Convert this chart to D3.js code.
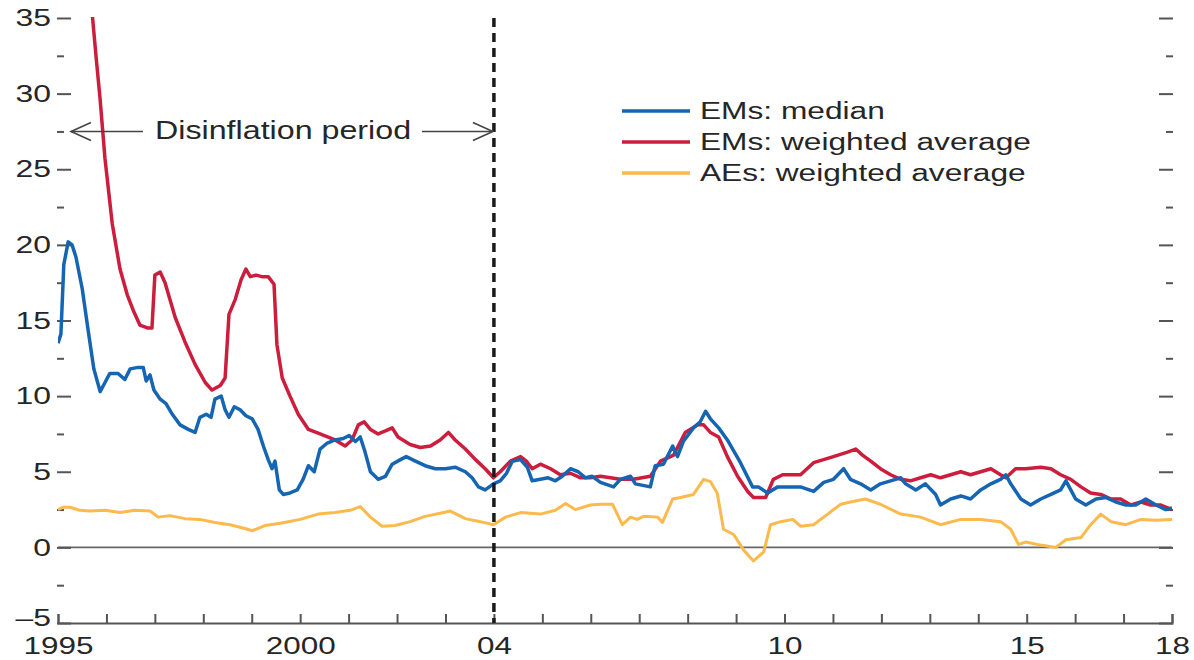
<!DOCTYPE html>
<html>
<head>
<meta charset="utf-8">
<script src="https://cdn.jsdelivr.net/npm/d3@7"></script>
<style>
  html, body { margin: 0; padding: 0; background: #fff; }
  svg { display: block; font-family: "Liberation Sans", Arial, sans-serif; }
</style>
</head>
<body>
<svg id="chart"></svg>
<script>
// [decimal year, percent]
const emMedian = [
  [1995.00, 13.5], [1995.06, 14.1], [1995.12, 18.7], [1995.21, 20.2], [1995.29, 20.0],
  [1995.37, 19.2], [1995.50, 17.1], [1995.62, 14.4], [1995.74, 11.8], [1995.87, 10.3],
  [1995.97, 10.9], [1996.07, 11.5], [1996.24, 11.5], [1996.38, 11.1], [1996.49, 11.8],
  [1996.65, 11.9], [1996.76, 11.9], [1996.82, 11.0], [1996.90, 11.4], [1996.98, 10.4],
  [1997.11, 9.8], [1997.23, 9.5], [1997.36, 8.8], [1997.52, 8.1], [1997.69, 7.8],
  [1997.83, 7.6], [1997.93, 8.6], [1998.06, 8.8], [1998.16, 8.6], [1998.24, 9.8],
  [1998.37, 10.0], [1998.45, 9.1], [1998.53, 8.6], [1998.64, 9.3], [1998.76, 9.1],
  [1998.88, 8.7], [1999.01, 8.5], [1999.13, 7.8], [1999.24, 6.7], [1999.34, 5.8],
  [1999.42, 5.2], [1999.48, 5.7], [1999.57, 3.8], [1999.65, 3.5], [1999.79, 3.6],
  [1999.94, 3.8], [2000.06, 4.5], [2000.17, 5.4], [2000.29, 5.0], [2000.41, 6.5],
  [2000.56, 6.9], [2000.72, 7.1], [2000.89, 7.2], [2001.01, 7.4], [2001.14, 7.0],
  [2001.24, 7.3], [2001.34, 6.3], [2001.45, 5.0], [2001.61, 4.5], [2001.76, 4.7],
  [2001.90, 5.5], [2002.07, 5.8], [2002.19, 6.0], [2002.38, 5.7], [2002.58, 5.4],
  [2002.79, 5.2], [2003.00, 5.2], [2003.20, 5.3], [2003.41, 5.0], [2003.55, 4.6],
  [2003.68, 4.0], [2003.82, 3.8], [2003.99, 4.2], [2004.13, 4.4], [2004.26, 4.9],
  [2004.38, 5.7], [2004.55, 5.8], [2004.69, 5.3], [2004.79, 4.4], [2004.96, 4.5],
  [2005.12, 4.6], [2005.27, 4.4], [2005.41, 4.7], [2005.58, 5.2], [2005.74, 5.0],
  [2005.89, 4.6], [2006.03, 4.7], [2006.20, 4.3], [2006.47, 4.0], [2006.61, 4.5],
  [2006.82, 4.7], [2006.92, 4.2], [2007.23, 4.0], [2007.33, 5.4], [2007.50, 5.5],
  [2007.69, 6.7], [2007.79, 6.0], [2007.91, 7.0], [2008.12, 7.9], [2008.26, 8.3],
  [2008.37, 9.0], [2008.47, 8.5], [2008.64, 7.9], [2008.82, 7.1], [2009.09, 5.6],
  [2009.34, 4.0], [2009.46, 4.0], [2009.65, 3.6], [2009.86, 4.0], [2010.12, 4.0],
  [2010.33, 4.0], [2010.60, 3.7], [2010.81, 4.3], [2011.01, 4.5], [2011.22, 5.2],
  [2011.36, 4.5], [2011.57, 4.2], [2011.78, 3.8], [2011.98, 4.2], [2012.19, 4.4],
  [2012.40, 4.6], [2012.50, 4.2], [2012.71, 3.8], [2012.91, 4.2], [2013.12, 3.5],
  [2013.22, 2.8], [2013.43, 3.2], [2013.64, 3.4], [2013.84, 3.2], [2014.05, 3.8],
  [2014.26, 4.2], [2014.46, 4.5], [2014.57, 4.8], [2014.67, 4.2], [2014.88, 3.2],
  [2015.08, 2.8], [2015.29, 3.2], [2015.50, 3.5], [2015.70, 3.8], [2015.81, 4.4],
  [2015.91, 3.8], [2016.01, 3.2], [2016.22, 2.8], [2016.43, 3.2], [2016.63, 3.3],
  [2016.84, 3.0], [2017.05, 2.8], [2017.25, 2.8], [2017.46, 3.2], [2017.67, 2.8],
  [2017.87, 2.5], [2018.00, 2.6]
];

const emWeighted = [
  [1995.70, 35.5], [1995.79, 32.3], [1995.87, 29.6], [1995.97, 25.7], [1996.12, 21.4],
  [1996.28, 18.4], [1996.43, 16.7], [1996.55, 15.7], [1996.69, 14.7], [1996.86, 14.5],
  [1996.94, 14.5], [1997.00, 18.0], [1997.11, 18.2], [1997.21, 17.5], [1997.42, 15.2],
  [1997.62, 13.6], [1997.83, 12.1], [1998.04, 10.9], [1998.18, 10.4], [1998.35, 10.7],
  [1998.45, 11.2], [1998.53, 15.4], [1998.66, 16.4], [1998.78, 17.7], [1998.88, 18.4],
  [1998.97, 17.9], [1999.09, 18.0], [1999.21, 17.9], [1999.34, 17.9], [1999.46, 17.4],
  [1999.52, 13.4], [1999.63, 11.2], [1999.79, 10.0], [1999.96, 8.8], [2000.17, 7.8],
  [2000.41, 7.5], [2000.72, 7.1], [2000.93, 6.7], [2001.07, 7.1], [2001.20, 8.1],
  [2001.32, 8.3], [2001.45, 7.8], [2001.61, 7.5], [2001.76, 7.7], [2001.90, 7.9],
  [2002.02, 7.3], [2002.27, 6.8], [2002.48, 6.6], [2002.69, 6.7], [2002.89, 7.1],
  [2003.06, 7.6], [2003.20, 7.1], [2003.41, 6.5], [2003.62, 5.8], [2003.82, 5.2],
  [2003.99, 4.6], [2004.13, 5.0], [2004.34, 5.7], [2004.55, 6.0], [2004.67, 5.7],
  [2004.79, 5.2], [2004.96, 5.5], [2005.17, 5.2], [2005.37, 4.8], [2005.58, 4.9],
  [2005.79, 4.6], [2005.99, 4.6], [2006.20, 4.7], [2006.61, 4.5], [2006.88, 4.5],
  [2007.23, 4.7], [2007.44, 5.7], [2007.71, 6.1], [2007.95, 7.6], [2008.20, 8.1],
  [2008.33, 8.1], [2008.47, 7.6], [2008.64, 7.3], [2008.82, 6.0], [2009.03, 4.7],
  [2009.24, 3.7], [2009.36, 3.3], [2009.61, 3.3], [2009.77, 4.5], [2009.96, 4.8],
  [2010.33, 4.8], [2010.60, 5.6], [2011.01, 6.0], [2011.30, 6.3], [2011.47, 6.5],
  [2011.61, 6.1], [2011.78, 5.7], [2011.98, 5.2], [2012.19, 4.8], [2012.40, 4.5],
  [2012.60, 4.4], [2012.81, 4.6], [2013.02, 4.8], [2013.22, 4.6], [2013.43, 4.8],
  [2013.64, 5.0], [2013.84, 4.8], [2014.05, 5.0], [2014.26, 5.2], [2014.46, 4.8],
  [2014.57, 4.6], [2014.77, 5.2], [2014.98, 5.2], [2015.29, 5.3], [2015.50, 5.2],
  [2015.70, 4.8], [2015.91, 4.5], [2016.12, 4.0], [2016.32, 3.6], [2016.53, 3.5],
  [2016.74, 3.2], [2016.94, 3.2], [2017.15, 2.8], [2017.36, 3.0], [2017.56, 2.8],
  [2017.77, 2.8], [2018.00, 2.5]
];

const aeWeighted = [
  [1995.00, 2.5], [1995.10, 2.65], [1995.25, 2.65], [1995.45, 2.45], [1995.66, 2.4],
  [1995.97, 2.45], [1996.28, 2.3], [1996.59, 2.45], [1996.90, 2.4], [1997.07, 2.0],
  [1997.31, 2.1], [1997.62, 1.9], [1997.93, 1.85], [1998.24, 1.65], [1998.55, 1.5],
  [1998.86, 1.25], [1999.01, 1.1], [1999.28, 1.45], [1999.59, 1.6], [2000.00, 1.85],
  [2000.37, 2.2], [2000.72, 2.3], [2001.03, 2.45], [2001.24, 2.7], [2001.45, 2.0],
  [2001.69, 1.4], [2001.96, 1.45], [2002.27, 1.7], [2002.58, 2.05], [2002.89, 2.25],
  [2003.10, 2.4], [2003.41, 1.9], [2003.72, 1.7], [2003.99, 1.5], [2004.24, 2.0],
  [2004.55, 2.3], [2004.96, 2.2], [2005.27, 2.45], [2005.48, 2.9], [2005.68, 2.5],
  [2005.99, 2.8], [2006.20, 2.85], [2006.45, 2.85], [2006.65, 1.5], [2006.82, 2.0],
  [2006.96, 1.85], [2007.09, 2.05], [2007.38, 2.0], [2007.48, 1.65], [2007.69, 3.2],
  [2007.85, 3.3], [2008.12, 3.5], [2008.33, 4.5], [2008.47, 4.35], [2008.61, 3.6],
  [2008.74, 1.2], [2008.95, 0.85], [2009.15, -0.15], [2009.36, -0.9], [2009.57, -0.3],
  [2009.71, 1.5], [2009.92, 1.7], [2010.17, 1.85], [2010.33, 1.4], [2010.60, 1.5],
  [2010.89, 2.2], [2011.16, 2.85], [2011.36, 3.0], [2011.67, 3.2], [2011.98, 2.85],
  [2012.40, 2.2], [2012.81, 2.0], [2013.22, 1.5], [2013.64, 1.85], [2014.05, 1.85],
  [2014.46, 1.7], [2014.67, 1.2], [2014.83, 0.2], [2014.98, 0.35], [2015.29, 0.15],
  [2015.60, 0.0], [2015.81, 0.5], [2016.12, 0.65], [2016.32, 1.5], [2016.53, 2.2],
  [2016.74, 1.7], [2017.05, 1.5], [2017.36, 1.85], [2017.67, 1.8], [2018.00, 1.85]
];

const seriesNames = ["EMs: median", "EMs: weighted average", "AEs: weighted average"];
const seriesColors = ["#1565b3", "#cc1d3d", "#fcb94c"];

const yearTicks = d3.range(1995, 2019);
const xLabelYears = [1995, 2000, 2004, 2010, 2015, 2018];
const xLabelTexts = ["1995", "2000", "04", "10", "15", "18"];
const yMajorTicks = [-5, 0, 5, 10, 15, 20, 25, 30, 35];
const yMinorTicks = [-2.5, 2.5, 7.5, 12.5, 17.5, 22.5, 27.5, 32.5];

const periodEnd = 2004;
const periodLevel = 27.5;
const periodLabel = "Disinflation period";

const W = 1194, H = 660;
const margin = { left: 58, right: 1172, top: 18, bottom: 623 };
const textColor = "#262626";
const axisColor = "#555";

const svg = d3.select("#chart").attr("width", W).attr("height", H);

const x = d3.scaleLinear().domain([1995, 2018]).range([margin.left, margin.right]);
const y = d3.scaleLinear().domain([-5, 35]).range([margin.bottom, margin.top]);

// stretch text horizontally (the source is wide-scaled)
function stretch(sel, sx) {
  sel.each(function () {
    const t = d3.select(this);
    const tx = +t.attr("x") || 0;
    t.attr("x", 0).attr("transform", `translate(${tx},0) scale(${sx},1)`);
  });
}

svg.append("defs").append("clipPath").attr("id", "plot")
  .append("rect").attr("x", margin.left).attr("y", margin.top - 1)
  .attr("width", margin.right - margin.left).attr("height", margin.bottom - margin.top + 1);

// Zero line
svg.append("line")
  .attr("x1", margin.left).attr("x2", margin.right)
  .attr("y1", y(0)).attr("y2", y(0))
  .attr("stroke", "#666").attr("stroke-width", 1.6);

// Left axis
const yLeft = svg.append("g").attr("transform", `translate(${margin.left - 1},0)`)
  .call(d3.axisLeft(y).tickValues(yMajorTicks).tickSizeInner(-14).tickSizeOuter(0)
    .tickPadding(6).tickFormat(d => d < 0 ? "\u2013" + Math.abs(d) : d));
yLeft.select(".domain").remove();
yLeft.selectAll("line").attr("stroke", axisColor).attr("stroke-width", 2);
yLeft.selectAll("text").attr("font-size", 24).attr("fill", textColor)
  .attr("font-family", "Liberation Sans, Arial, sans-serif")
  .filter(d => d < 0).attr("dy", "0.12em");
stretch(yLeft.selectAll("text"), 1.33);

const yLeftMinor = svg.append("g").attr("transform", `translate(${margin.left - 1},0)`)
  .call(d3.axisLeft(y).tickValues(yMinorTicks).tickSizeInner(-7).tickSizeOuter(0).tickFormat(""));
yLeftMinor.select(".domain").remove();
yLeftMinor.selectAll("line").attr("stroke", axisColor).attr("stroke-width", 2);

// Right axis (ticks only)
const yRight = svg.append("g").attr("transform", `translate(${margin.right + 1},0)`)
  .call(d3.axisRight(y).tickValues(yMajorTicks).tickSizeInner(-14).tickSizeOuter(0).tickFormat(""));
yRight.select(".domain").remove();
yRight.selectAll("line").attr("stroke", axisColor).attr("stroke-width", 2);

const yRightMinor = svg.append("g").attr("transform", `translate(${margin.right + 1},0)`)
  .call(d3.axisRight(y).tickValues(yMinorTicks).tickSizeInner(-7).tickSizeOuter(0).tickFormat(""));
yRightMinor.select(".domain").remove();
yRightMinor.selectAll("line").attr("stroke", axisColor).attr("stroke-width", 2);

// Bottom axis
const xAxis = svg.append("g").attr("transform", `translate(0,${margin.bottom})`)
  .call(d3.axisBottom(x).tickValues(yearTicks).tickSizeInner(-9).tickSizeOuter(-9)
    .tickPadding(14).tickFormat(d => {
      const i = xLabelYears.indexOf(d);
      return i >= 0 ? xLabelTexts[i] : "";
    }));
xAxis.select(".domain").attr("stroke", axisColor).attr("stroke-width", 2);
xAxis.selectAll("line").attr("stroke", axisColor).attr("stroke-width", 2);
xAxis.selectAll("text").attr("font-size", 24).attr("fill", textColor)
  .attr("font-family", "Liberation Sans, Arial, sans-serif");
stretch(xAxis.selectAll("text"), 1.31);

// Lines
const line = d3.line().x(d => x(d[0])).y(d => y(d[1]));
const plot = svg.append("g").attr("clip-path", "url(#plot)");
const drawOrder = [
  { data: aeWeighted, color: seriesColors[2], width: 3 },
  { data: emWeighted, color: seriesColors[1], width: 3.5 },
  { data: emMedian, color: seriesColors[0], width: 3.5 }
];
drawOrder.forEach(s => {
  plot.append("path").datum(s.data)
    .attr("d", line)
    .attr("fill", "none")
    .attr("stroke", s.color)
    .attr("stroke-width", s.width)
    .attr("stroke-linejoin", "round");
});

// Dashed 2004 line
svg.append("line")
  .attr("x1", x(periodEnd)).attr("x2", x(periodEnd))
  .attr("y1", margin.top).attr("y2", margin.bottom)
  .attr("stroke", "#1a1a1a").attr("stroke-width", 3.5)
  .attr("stroke-dasharray", "9,6");

// Disinflation period annotation
const ay = y(periodLevel);
const xe = x(periodEnd) - 1;
const ann = svg.append("g").attr("stroke", "#444").attr("stroke-width", 1.6).attr("fill", "none");
ann.append("line").attr("x1", 71).attr("x2", 143).attr("y1", ay).attr("y2", ay);
ann.append("path").attr("d", `M${71 + 20},${ay - 9}L71,${ay}L${71 + 20},${ay + 9}`);
ann.append("line").attr("x1", 422).attr("x2", xe).attr("y1", ay).attr("y2", ay);
ann.append("path").attr("d", `M${xe - 20},${ay - 9}L${xe},${ay}L${xe - 20},${ay + 9}`);
svg.append("text")
  .attr("x", 155).attr("y", ay + 8)
  .attr("font-size", 26).attr("fill", textColor)
  .text(periodLabel)
  .call(stretch, 1.24);

// Legend
const legend = svg.append("g");
seriesNames.forEach((name, i) => {
  const ly = 111 + i * 31;
  legend.append("line")
    .attr("x1", 622).attr("x2", 690).attr("y1", ly).attr("y2", ly)
    .attr("stroke", seriesColors[i]).attr("stroke-width", 3.5);
  legend.append("text")
    .attr("x", 700).attr("y", ly + 8.5)
    .attr("font-size", 24).attr("fill", textColor)
    .text(name)
    .call(stretch, 1.32);
});
</script>
</body>
</html>
